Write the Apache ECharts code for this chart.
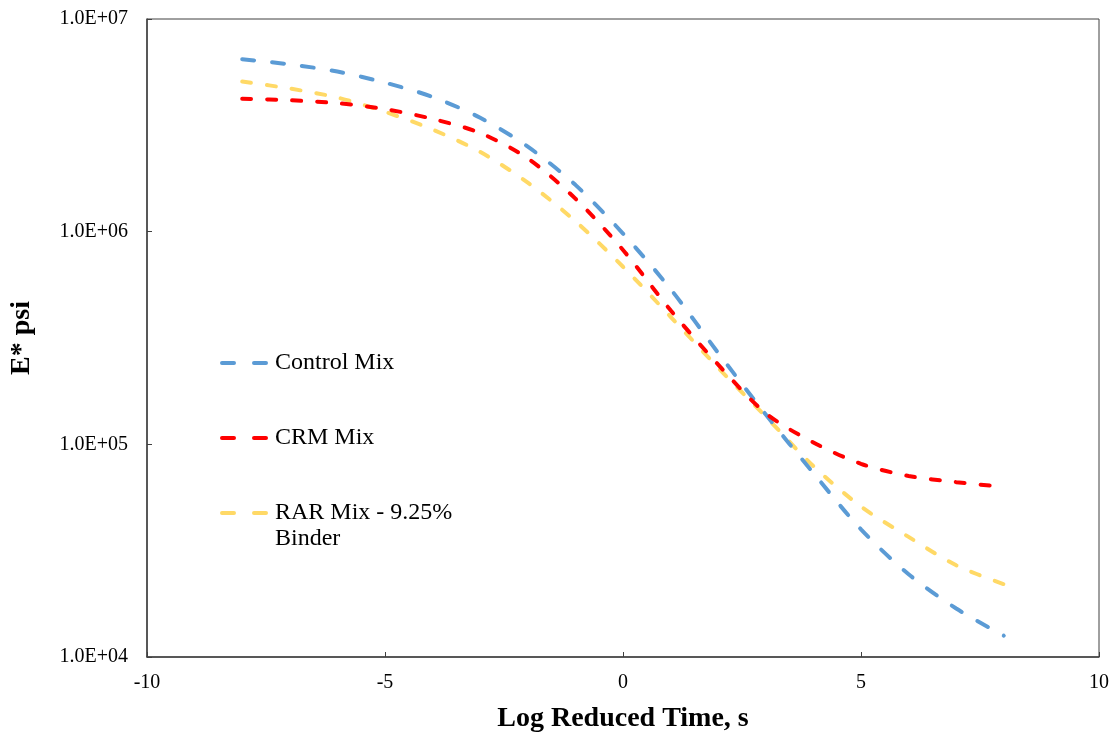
<!DOCTYPE html>
<html>
<head>
<meta charset="utf-8">
<script src="https://cdn.jsdelivr.net/npm/echarts@6/dist/echarts.min.js"></script>
<style>
html,body{margin:0;padding:0;background:#fff;}
#chart{width:1115px;height:738px;}
</style>
</head>
<body>
<div id="chart"></div>
<script>
const logTime = [-8, -7, -6, -5, -4, -3, -2, -1, 0, 1, 2, 3, 4, 5, 6, 7, 8];
const controlMix = [6.47e6, 6.12e6, 5.66e6, 5.02e6, 4.30e6, 3.43e6, 2.51e6, 1.66e6, 9.8e5, 5.37e5, 2.69e5, 1.38e5, 7.33e4, 3.98e4, 2.45e4, 1.69e4, 1.26e4];
const crmMix = [4.22e6, 4.15e6, 4.02e6, 3.77e6, 3.39e6, 2.91e6, 2.21e6, 1.43e6, 8.2e5, 4.27e5, 2.37e5, 1.40e5, 1.02e5, 8.1e4, 7.1e4, 6.64e4, 6.31e4];
const rarMix = [5.08e6, 4.71e6, 4.27e6, 3.66e6, 3.02e6, 2.37e6, 1.70e6, 1.12e6, 6.84e5, 3.98e5, 2.29e5, 1.35e5, 7.9e4, 5.1e4, 3.67e4, 2.70e4, 2.2e4];
const seriesNames = ['Control Mix', 'CRM Mix', 'RAR Mix - 9.25%\nBinder'];
const yTickLabels = {4: '1.0E+04', 5: '1.0E+05', 6: '1.0E+06', 7: '1.0E+07'};
const xTicks = [-10, -5, 0, 5, 10];

const pair = (ys) => logTime.map((x, i) => [x, ys[i]]);
const FONT = '"Liberation Serif", "Times New Roman", serif';

const chart = echarts.init(document.getElementById('chart'), null, {renderer: 'canvas'});

function legendFor(name, top, extra) {
  return Object.assign({
    data: [name],
    left: 220,
    top: top,
    padding: 0,
    orient: 'vertical',
    itemWidth: 48,
    itemHeight: 14,
    itemGap: 0,
    selectedMode: false,
    itemStyle: {opacity: 0},
    lineStyle: {width: 4, cap: 'round', type: [12, 20]},
    textStyle: {fontFamily: FONT, fontSize: 24, color: '#000', lineHeight: 26}
  }, extra || {});
}

const option = {
  backgroundColor: '#ffffff',
  animation: false,
  textStyle: {fontFamily: FONT},
  grid: {left: 147, right: 16, top: 19, bottom: 79, show: true, borderColor: '#404040', borderWidth: 1, containLabel: false},
  legend: [
    legendFor(seriesNames[0], 350),
    legendFor(seriesNames[1], 425),
    legendFor(seriesNames[2], 474, {formatter: (n) => ' \n' + n})
  ],
  xAxis: {
    type: 'value',
    min: xTicks[0],
    max: xTicks[xTicks.length - 1],
    interval: 5,
    name: 'Log Reduced Time, s',
    nameLocation: 'middle',
    nameGap: 48,
    nameTextStyle: {fontFamily: FONT, fontSize: 28, fontWeight: 'bold', color: '#000'},
    axisLine: {show: true, onZero: false, lineStyle: {color: '#404040', width: 1.5}},
    axisTick: {show: true, inside: true, length: 5, lineStyle: {color: '#404040'}},
    axisLabel: {fontFamily: FONT, fontSize: 20, color: '#000', margin: 16},
    splitLine: {show: false}
  },
  yAxis: {
    type: 'log',
    logBase: 10,
    min: 1e4,
    max: 1e7,
    name: 'E* psi',
    nameLocation: 'middle',
    nameGap: 111,
    nameTextStyle: {fontFamily: FONT, fontSize: 28, fontWeight: 'bold', color: '#000'},
    axisLine: {show: true, onZero: false, lineStyle: {color: '#404040', width: 1.5}},
    axisTick: {show: true, inside: true, length: 5, lineStyle: {color: '#404040'}},
    axisLabel: {
      fontFamily: FONT, fontSize: 20, color: '#000', margin: 19,
      formatter: (v) => yTickLabels[Math.round(Math.log10(v))] || ''
    },
    splitLine: {show: false},
    minorTick: {show: false}
  },
  series: [
    {
      name: seriesNames[0], type: 'line', data: pair(controlMix), showSymbol: false, symbol: 'none',
      smooth: 0.3, z: 3,
      lineStyle: {color: '#5B9BD5', width: 4, type: [12, 18], cap: 'round'},
      itemStyle: {color: '#5B9BD5'}
    },
    {
      name: seriesNames[1], type: 'line', data: pair(crmMix), showSymbol: false, symbol: 'none',
      smooth: 0.3, z: 4,
      lineStyle: {color: '#FF0000', width: 4, type: [9, 16], cap: 'round'},
      itemStyle: {color: '#FF0000'}
    },
    {
      name: seriesNames[2], type: 'line', data: pair(rarMix), showSymbol: false, symbol: 'none',
      smooth: 0.3, z: 2,
      lineStyle: {color: '#FFD966', width: 4, type: [9, 16], cap: 'round'},
      itemStyle: {color: '#FFD966'}
    }
  ]
};
chart.setOption(option);
</script>
</body>
</html>
